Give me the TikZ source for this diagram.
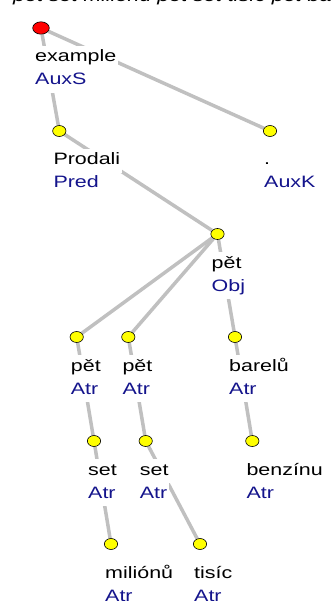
\documentclass[tikz,border=0pt]{standalone}
\usepackage{fontspec}
\usepackage{tikz}
\usetikzlibrary{shapes,backgrounds}

\newfontfamily\labfont[FakeStretch=1.3]{Liberation Sans}
\definecolor{edgegray}{RGB}{192,192,192}
\definecolor{afuncol}{RGB}{20,20,140}
\definecolor{dotyellow}{RGB}{255,255,0}

\begin{document}
\begin{tikzpicture}[x=1pt, y=-1pt,
    edge/.style={draw=edgegray, line width=3.5pt},
    rootdot/.style={ellipse, draw=black, line width=0.6pt, fill=red,
                    minimum width=16.6pt, minimum height=12.4pt, inner sep=0pt},
    leafdot/.style={ellipse, draw=black, line width=0.6pt, fill=dotyellow,
                    minimum width=13.3pt, minimum height=11pt, inner sep=0pt},
    lab/.style={font=\labfont\fontsize{16.5}{24}\selectfont, anchor=base west,
                fill=white, inner xsep=2pt, inner ysep=3pt,
                text height=13pt, text depth=5pt},
    word/.style={lab, text=black, xshift=-8pt, yshift=-34pt},
    afun/.style={lab, text=afuncol, xshift=-8pt, yshift=-57pt},
    sent/.style={lab, fill=none, inner sep=0pt,
                 font=\labfont\itshape\fontsize{16.5}{24}\selectfont}]
  \useasboundingbox (0,0) rectangle (331,601);

  % sentence above, cut off at the top
  \begin{scope}
    \clip (0,0) rectangle (331,601);
    \node [sent] (sentence) at (13, 1.5)
          {pět set milionů pět set tisíc pět barelů benzínu .};
  \end{scope}

  % dots
  \node [rootdot] (root)    at ( 41.0,  28.0) {};
  \node [leafdot] (prodali) at ( 59.3, 131.0) {};
  \node [leafdot] (auxk)    at (270.0, 131.0) {};
  \node [leafdot] (obj)     at (217.5, 234.0) {};
  \node [leafdot] (atra)    at ( 76.7, 337.0) {};
  \node [leafdot] (atrb)    at (128.3, 337.0) {};
  \node [leafdot] (barelu)  at (235.0, 337.0) {};
  \node [leafdot] (seta)    at ( 94.0, 441.0) {};
  \node [leafdot] (setb)    at (145.7, 441.0) {};
  \node [leafdot] (benzinu) at (252.3, 441.0) {};
  \node [leafdot] (milionu) at (111.0, 544.0) {};
  \node [leafdot] (tisic)   at (200.0, 544.0) {};

  % labels
  \node [word] (rootw)    at (root)    {example};
  \node [afun] (roota)    at (root)    {AuxS};
  \node [word] (prodaliw) at (prodali) {Prodali};
  \node [afun] (prodalia) at (prodali) {Pred};
  \node [word] (auxkw)    at (auxk)    {.};
  \node [afun] (auxka)    at (auxk)    {AuxK};
  \node [word] (objw)     at (obj)     {pět};
  \node [afun] (obja)     at (obj)     {Obj};
  \node [word] (atraw)    at (atra)    {pět};
  \node [afun] (atraa)    at (atra)    {Atr};
  \node [word] (atrbw)    at (atrb)    {pět};
  \node [afun] (atrba)    at (atrb)    {Atr};
  \node [word] (bareluw)  at (barelu)  {barelů};
  \node [afun] (barelua)  at (barelu)  {Atr};
  \node [word] (setaw)    at (seta)    {set};
  \node [afun] (setaa)    at (seta)    {Atr};
  \node [word] (setbw)    at (setb)    {set};
  \node [afun] (setba)    at (setb)    {Atr};
  \node [word] (benzinuw) at (benzinu) {benzínu};
  \node [afun] (benzinua) at (benzinu) {Atr};
  \node [word] (milionuw) at (milionu) {miliónů};
  \node [afun] (milionua) at (milionu) {Atr};
  \node [word] (tisicw)   at (tisic)   {tisíc};
  \node [afun] (tisica)   at (tisic)   {Atr};

  % edges, behind labels and dots
  \begin{scope}[on background layer]
    \draw [edge] (root)    -- (prodali);
    \draw [edge] (root)    -- (auxk);
    \draw [edge] (prodali) -- (obj);
    \draw [edge] (obj)     -- (atra);
    \draw [edge] (obj)     -- (atrb);
    \draw [edge] (obj)     -- (barelu);
    \draw [edge] (atra)    -- (seta);
    \draw [edge] (atrb)    -- (setb);
    \draw [edge] (barelu)  -- (benzinu);
    \draw [edge] (seta)    -- (milionu);
    \draw [edge] (setb)    -- (tisic);
  \end{scope}

\end{tikzpicture}
\end{document}
